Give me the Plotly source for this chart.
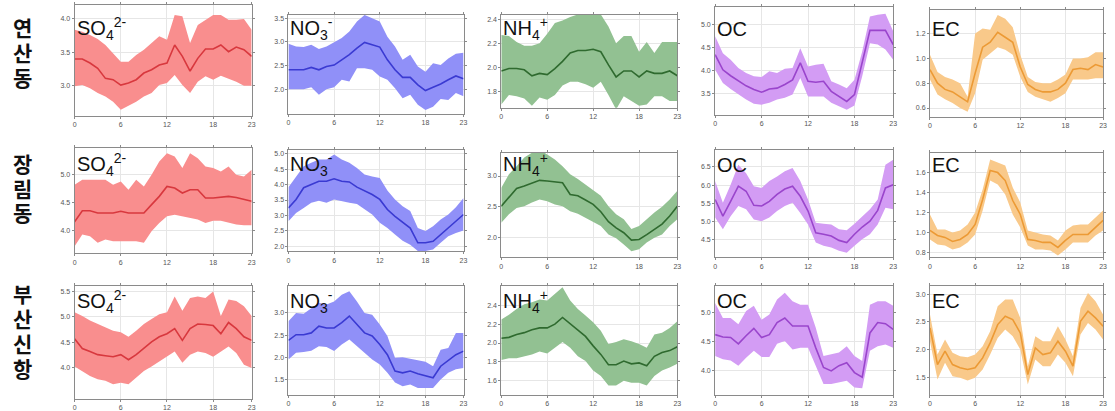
import plotly.graph_objects as go

hours = list(range(24))
x_ticks = [0, 6, 12, 18, 23]
sites = ["연산동", "장림동", "부산신항"]
species_labels = ["SO<sub>4</sub><sup>2-</sup>", "NO<sub>3</sub><sup>-</sup>",
                  "NH<sub>4</sub><sup>+</sup>", "OC", "EC"]

# ---------------- 연산동 ----------------
ys_so4_mean = [3.40, 3.40, 3.34, 3.26, 3.11, 3.09, 3.01, 3.04, 3.09, 3.19, 3.24, 3.31, 3.34, 3.61, 3.44, 3.22, 3.41, 3.55, 3.55, 3.61, 3.51, 3.58, 3.54, 3.44]
ys_so4_high = [3.84, 3.81, 3.76, 3.70, 3.61, 3.49, 3.36, 3.36, 3.46, 3.54, 3.64, 3.74, 3.69, 4.06, 4.04, 3.64, 3.91, 3.99, 4.06, 4.06, 3.99, 3.99, 4.00, 3.84]
ys_so4_low = [2.99, 3.01, 2.96, 2.89, 2.84, 2.76, 2.64, 2.70, 2.76, 2.84, 2.89, 3.01, 3.04, 3.16, 3.01, 2.89, 3.06, 3.14, 3.09, 3.15, 3.11, 3.06, 3.00, 3.00]

ys_no3_mean = [2.41, 2.41, 2.41, 2.46, 2.41, 2.48, 2.51, 2.62, 2.73, 2.87, 2.99, 2.94, 2.89, 2.62, 2.41, 2.25, 2.25, 2.09, 1.97, 2.04, 2.11, 2.20, 2.28, 2.22]
ys_no3_high = [2.96, 2.90, 2.89, 2.94, 2.85, 2.90, 2.99, 3.08, 3.22, 3.43, 3.57, 3.50, 3.43, 3.11, 2.90, 2.62, 2.73, 2.48, 2.37, 2.55, 2.51, 2.65, 2.75, 2.77]
ys_no3_low = [2.00, 2.00, 2.00, 2.04, 1.88, 2.00, 2.04, 2.20, 2.16, 2.44, 2.44, 2.41, 2.27, 2.20, 2.02, 1.81, 1.88, 1.67, 1.56, 1.63, 1.79, 1.77, 1.92, 1.85]

ys_nh4_mean = [1.97, 1.99, 1.99, 1.98, 1.93, 1.95, 1.94, 1.99, 2.05, 2.12, 2.14, 2.14, 2.15, 2.13, 2.02, 1.92, 1.97, 1.97, 1.92, 1.97, 1.95, 1.95, 1.97, 1.93]
ys_nh4_high = [2.27, 2.26, 2.21, 2.18, 2.18, 2.20, 2.28, 2.37, 2.39, 2.42, 2.44, 2.44, 2.44, 2.44, 2.34, 2.20, 2.26, 2.26, 2.13, 2.21, 2.12, 2.21, 2.21, 2.21]
ys_nh4_low = [1.69, 1.77, 1.76, 1.74, 1.68, 1.75, 1.73, 1.77, 1.85, 1.88, 1.88, 1.86, 1.83, 1.88, 1.77, 1.65, 1.76, 1.72, 1.68, 1.69, 1.76, 1.76, 1.72, 1.72]

ys_oc_mean = [4.35, 4.02, 3.89, 3.77, 3.67, 3.59, 3.53, 3.60, 3.62, 3.70, 3.80, 4.17, 3.77, 3.75, 3.77, 3.55, 3.44, 3.33, 3.48, 4.20, 4.88, 4.88, 4.88, 4.57]
ys_oc_high = [4.75, 4.38, 4.24, 4.06, 3.95, 3.88, 3.86, 3.99, 3.95, 4.04, 4.06, 4.49, 4.09, 4.13, 4.15, 3.77, 3.70, 3.62, 3.80, 4.42, 5.18, 5.22, 5.24, 4.86]
ys_oc_low = [4.02, 3.73, 3.60, 3.48, 3.37, 3.28, 3.26, 3.30, 3.37, 3.41, 3.48, 3.84, 3.44, 3.44, 3.44, 3.30, 3.23, 3.15, 3.24, 3.88, 4.60, 4.57, 4.46, 4.24]

ys_ec_mean = [0.91, 0.80, 0.75, 0.73, 0.69, 0.65, 0.88, 1.09, 1.13, 1.21, 1.17, 1.13, 0.93, 0.79, 0.75, 0.73, 0.73, 0.75, 0.80, 0.91, 0.92, 0.91, 0.95, 0.93]
ys_ec_high = [1.03, 0.89, 0.85, 0.83, 0.80, 0.69, 1.20, 1.24, 1.23, 1.35, 1.32, 1.25, 1.03, 0.85, 0.81, 0.80, 0.80, 0.83, 0.87, 1.00, 1.00, 1.01, 1.05, 1.05]
ys_ec_low = [0.83, 0.71, 0.67, 0.64, 0.60, 0.57, 0.72, 0.99, 1.04, 1.09, 1.07, 1.03, 0.85, 0.73, 0.69, 0.67, 0.65, 0.68, 0.72, 0.83, 0.83, 0.83, 0.84, 0.84]

# ---------------- 장림동 ----------------
jr_so4_mean = [4.15, 4.35, 4.35, 4.31, 4.31, 4.31, 4.34, 4.31, 4.31, 4.31, 4.46, 4.61, 4.79, 4.76, 4.67, 4.73, 4.73, 4.58, 4.58, 4.59, 4.61, 4.59, 4.55, 4.52]
jr_so4_high = [4.82, 4.91, 4.91, 4.91, 4.91, 4.82, 4.88, 4.73, 4.91, 4.79, 5.00, 5.24, 5.39, 5.33, 5.12, 5.39, 5.30, 5.15, 5.12, 5.06, 5.15, 5.00, 4.97, 5.09]
jr_so4_low = [3.71, 3.92, 3.89, 3.77, 3.83, 3.80, 3.80, 3.80, 3.80, 3.77, 3.98, 4.13, 4.25, 4.28, 4.25, 4.22, 4.19, 4.13, 4.17, 4.17, 4.13, 4.10, 4.09, 4.09]

jr_no3_mean = [3.24, 3.52, 3.90, 4.00, 4.11, 4.11, 4.19, 4.11, 4.09, 3.92, 3.81, 3.68, 3.52, 3.19, 2.97, 2.79, 2.59, 2.11, 2.11, 2.16, 2.38, 2.59, 2.83, 3.03]
jr_no3_high = [3.92, 4.27, 4.60, 4.71, 4.82, 4.82, 4.98, 4.82, 4.71, 4.54, 4.33, 4.27, 4.22, 3.81, 3.52, 3.30, 3.14, 2.59, 2.49, 2.65, 2.87, 3.03, 3.27, 3.57]
jr_no3_low = [2.81, 3.08, 3.24, 3.41, 3.48, 3.41, 3.52, 3.46, 3.41, 3.37, 3.19, 3.03, 2.76, 2.59, 2.38, 2.18, 2.05, 1.84, 1.84, 1.89, 2.11, 2.32, 2.43, 2.51]

jr_nh4_mean = [2.51, 2.65, 2.80, 2.84, 2.89, 2.93, 2.92, 2.90, 2.89, 2.70, 2.68, 2.61, 2.54, 2.42, 2.26, 2.16, 2.08, 1.96, 1.97, 2.05, 2.14, 2.22, 2.35, 2.51]
jr_nh4_high = [2.81, 3.03, 3.16, 3.30, 3.38, 3.43, 3.35, 3.27, 3.16, 3.03, 2.95, 2.86, 2.78, 2.68, 2.51, 2.38, 2.30, 2.14, 2.19, 2.30, 2.41, 2.50, 2.62, 2.76]
jr_nh4_low = [2.24, 2.38, 2.48, 2.51, 2.57, 2.62, 2.59, 2.54, 2.51, 2.43, 2.39, 2.32, 2.26, 2.19, 2.05, 1.99, 1.89, 1.78, 1.81, 1.92, 2.00, 2.05, 2.19, 2.30]

jr_oc_mean = [5.60, 5.14, 5.55, 5.97, 5.83, 5.44, 5.42, 5.55, 5.74, 5.89, 5.97, 5.69, 5.28, 4.68, 4.64, 4.59, 4.47, 4.41, 4.64, 4.84, 5.00, 5.30, 5.92, 6.01]
jr_oc_high = [6.11, 5.51, 6.01, 6.56, 6.33, 5.97, 5.92, 6.11, 6.24, 6.38, 6.47, 6.11, 5.60, 4.96, 4.93, 4.91, 4.78, 4.75, 4.93, 5.14, 5.33, 5.60, 6.56, 6.70]
jr_oc_low = [5.10, 4.78, 5.14, 5.42, 5.33, 5.05, 5.00, 5.10, 5.28, 5.42, 5.51, 5.23, 4.91, 4.41, 4.32, 4.27, 4.18, 4.13, 4.32, 4.50, 4.64, 4.91, 5.37, 5.33]

jr_ec_mean = [1.02, 0.97, 0.95, 0.91, 0.93, 0.98, 1.08, 1.33, 1.62, 1.60, 1.52, 1.32, 1.18, 0.93, 0.92, 0.90, 0.90, 0.85, 0.92, 0.98, 0.98, 0.98, 1.05, 1.12]
jr_ec_high = [1.18, 1.03, 1.03, 1.00, 1.02, 1.08, 1.20, 1.43, 1.73, 1.70, 1.67, 1.45, 1.30, 1.02, 1.00, 0.98, 0.97, 0.92, 1.02, 1.07, 1.08, 1.08, 1.15, 1.22]
jr_ec_low = [0.93, 0.88, 0.87, 0.83, 0.85, 0.90, 0.98, 1.22, 1.52, 1.48, 1.38, 1.18, 1.05, 0.87, 0.83, 0.83, 0.82, 0.77, 0.83, 0.90, 0.90, 0.90, 0.97, 1.02]

# ---------------- 부산신항 ----------------
bs_so4_mean = [4.57, 4.38, 4.32, 4.26, 4.24, 4.22, 4.26, 4.16, 4.26, 4.38, 4.51, 4.61, 4.67, 4.77, 4.54, 4.77, 4.86, 4.85, 4.83, 4.67, 4.89, 4.77, 4.61, 4.54]
bs_so4_high = [5.09, 5.02, 4.93, 4.86, 4.80, 4.73, 4.70, 4.61, 4.73, 4.86, 4.96, 5.05, 5.09, 5.40, 5.12, 5.37, 5.40, 5.37, 5.50, 5.02, 5.34, 5.31, 5.21, 5.02]
bs_so4_low = [4.03, 3.94, 3.84, 3.78, 3.75, 3.68, 3.71, 3.68, 3.81, 3.94, 4.03, 4.13, 4.22, 4.32, 4.10, 4.26, 4.32, 4.29, 4.22, 4.32, 4.42, 4.29, 4.06, 4.00]

bs_no3_mean = [2.38, 2.51, 2.51, 2.55, 2.70, 2.66, 2.66, 2.78, 2.93, 2.74, 2.55, 2.48, 2.29, 2.06, 1.69, 1.65, 1.69, 1.63, 1.58, 1.54, 1.80, 1.93, 2.06, 2.14]
bs_no3_high = [2.81, 3.00, 2.98, 3.11, 3.23, 3.19, 3.26, 3.41, 3.49, 3.26, 3.00, 2.96, 2.74, 2.48, 1.99, 2.00, 1.97, 1.93, 1.90, 1.80, 2.17, 2.21, 2.55, 2.55]
bs_no3_low = [1.95, 2.10, 2.12, 2.15, 2.25, 2.23, 2.14, 2.29, 2.40, 2.25, 2.10, 1.95, 1.84, 1.65, 1.43, 1.35, 1.39, 1.31, 1.31, 1.31, 1.50, 1.65, 1.73, 1.76]

bs_nh4_mean = [2.05, 2.06, 2.09, 2.11, 2.14, 2.16, 2.16, 2.20, 2.27, 2.20, 2.13, 2.07, 1.97, 1.88, 1.77, 1.77, 1.81, 1.78, 1.79, 1.76, 1.86, 1.90, 1.92, 1.96]
bs_nh4_high = [2.25, 2.30, 2.36, 2.41, 2.43, 2.46, 2.45, 2.52, 2.59, 2.45, 2.36, 2.29, 2.22, 2.13, 1.99, 2.01, 2.04, 2.02, 1.99, 1.95, 2.09, 2.11, 2.16, 2.23]
bs_nh4_low = [1.82, 1.84, 1.84, 1.86, 1.88, 1.91, 1.89, 1.95, 2.01, 1.95, 1.86, 1.81, 1.71, 1.65, 1.55, 1.55, 1.60, 1.58, 1.58, 1.55, 1.65, 1.71, 1.74, 1.78]

bs_oc_mean = [4.62, 4.58, 4.57, 4.46, 4.60, 4.73, 4.57, 4.62, 4.83, 4.91, 4.77, 4.77, 4.77, 4.39, 4.05, 3.99, 4.08, 4.13, 3.96, 3.88, 4.65, 4.83, 4.81, 4.71]
bs_oc_high = [5.17, 4.91, 4.91, 4.80, 5.03, 5.12, 4.88, 4.97, 5.23, 5.35, 5.20, 5.14, 5.14, 4.74, 4.25, 4.28, 4.31, 4.42, 4.25, 4.16, 5.14, 5.20, 5.20, 5.12]
bs_oc_low = [4.25, 4.19, 4.17, 4.08, 4.22, 4.34, 4.23, 4.23, 4.46, 4.51, 4.36, 4.39, 4.39, 4.08, 3.76, 3.76, 3.79, 3.82, 3.70, 3.69, 4.34, 4.42, 4.45, 4.39]

bs_ec_mean = [2.39, 1.73, 1.97, 1.73, 1.67, 1.64, 1.67, 1.85, 2.12, 2.45, 2.60, 2.54, 2.30, 1.55, 2.03, 1.91, 1.94, 2.15, 1.97, 1.70, 2.51, 2.69, 2.57, 2.42]
bs_ec_high = [2.63, 1.91, 2.18, 1.94, 1.88, 1.86, 1.91, 2.06, 2.33, 2.78, 2.90, 2.90, 2.57, 1.70, 2.24, 2.15, 2.15, 2.42, 2.18, 1.88, 2.75, 3.02, 2.87, 2.63]
bs_ec_low = [2.15, 1.46, 1.76, 1.52, 1.49, 1.44, 1.49, 1.64, 1.91, 2.21, 2.36, 2.24, 2.00, 1.37, 1.82, 1.70, 1.70, 1.91, 1.76, 1.52, 2.27, 2.48, 2.36, 2.18]

panels = [
    [(ys_so4_mean, ys_so4_low, ys_so4_high), (ys_no3_mean, ys_no3_low, ys_no3_high),
     (ys_nh4_mean, ys_nh4_low, ys_nh4_high), (ys_oc_mean, ys_oc_low, ys_oc_high),
     (ys_ec_mean, ys_ec_low, ys_ec_high)],
    [(jr_so4_mean, jr_so4_low, jr_so4_high), (jr_no3_mean, jr_no3_low, jr_no3_high),
     (jr_nh4_mean, jr_nh4_low, jr_nh4_high), (jr_oc_mean, jr_oc_low, jr_oc_high),
     (jr_ec_mean, jr_ec_low, jr_ec_high)],
    [(bs_so4_mean, bs_so4_low, bs_so4_high), (bs_no3_mean, bs_no3_low, bs_no3_high),
     (bs_nh4_mean, bs_nh4_low, bs_nh4_high), (bs_oc_mean, bs_oc_low, bs_oc_high),
     (bs_ec_mean, bs_ec_low, bs_ec_high)],
]

# y-axis tick values and ranges per panel
y_tickvals = [
    [[3.0, 3.5, 4.0], [2.0, 2.5, 3.0, 3.5], [1.8, 2.0, 2.2, 2.4], [3.5, 4.0, 4.5, 5.0], [0.6, 0.8, 1.0, 1.2]],
    [[4.0, 4.5, 5.0], [2.0, 2.5, 3.0, 3.5, 4.0, 4.5, 5.0], [2.0, 2.5, 3.0], [4.5, 5.0, 5.5, 6.0, 6.5], [0.8, 1.0, 1.2, 1.4, 1.6]],
    [[4.0, 4.5, 5.0, 5.5], [1.5, 2.0, 2.5, 3.0], [1.6, 1.8, 2.0, 2.2, 2.4], [4.0, 4.5, 5.0], [1.5, 2.0, 2.5, 3.0]],
]
y_ranges = [
    [[2.55, 4.21], [1.48, 3.57], [1.664, 2.436], [3.04, 5.39], [0.53, 1.39]],
    [[3.58, 5.49], [1.83, 5.14], [1.68, 3.38], [4.0, 6.98], [0.75, 1.80]],
    [[3.39, 5.60], [1.15, 3.60], [1.45, 2.60], [3.57, 5.46], [1.18, 3.14]],
]

# layout in pixels
W, H = 1115, 411
col_px = [(73, 251), (288, 464), (502, 679), (717, 896), (933, 1107)]
row_px = [
    [(5, 116), (15, 114), (15, 108), (7, 115), (10, 117)],
    [(148, 254), (150, 252), (153, 258), (150, 258), (153, 258)],
    [(287, 400), (287, 396), (287, 396), (287, 396), (287, 396)],
]
label_cy = [29, 165, 302]      # vertical centre of the species labels (px)
site_char_y = [[27, 52, 77], [163, 188, 213], [294, 319, 344, 369]]

fill_colors = ["#F98E8E", "#9090F8", "#92C192", "#D39CF4", "#F9C98A"]
line_colors = ["#D8383E", "#3A3AD2", "#2F6A2F", "#9A45CC", "#EC9A35"]

fig = go.Figure()
layout = dict(
    width=W, height=H, margin=dict(l=0, r=0, t=0, b=0),
    paper_bgcolor="white", plot_bgcolor="white", showlegend=False,
    font=dict(family="Liberation Sans, Arial, sans-serif"),
)
annotations = []

k = 0
for r in range(3):
    for c in range(5):
        k += 1
        xa = "x" if k == 1 else f"x{k}"
        ya = "y" if k == 1 else f"y{k}"
        mean, low, high = panels[r][c]
        fig.add_trace(go.Scatter(x=hours, y=low, mode="lines", line=dict(width=0, color=fill_colors[c]),
                                 xaxis=xa, yaxis=ya, hoverinfo="skip"))
        fig.add_trace(go.Scatter(x=hours, y=high, mode="lines", line=dict(width=0, color=fill_colors[c]),
                                 fill="tonexty", fillcolor=fill_colors[c], xaxis=xa, yaxis=ya))
        fig.add_trace(go.Scatter(x=hours, y=mean, mode="lines", line=dict(width=1.6, color=line_colors[c]),
                                 xaxis=xa, yaxis=ya))
        x0, x1 = col_px[c]
        t, b = row_px[r][c]
        axis_common = dict(showline=True, linecolor="#8a8a8a", linewidth=1, mirror="ticks",
                           ticks="outside", ticklen=2, tickcolor="#8a8a8a",
                           showgrid=True, gridcolor="#e6e6e6", gridwidth=1, zeroline=False,
                           tickfont=dict(size=7, color="#555555"))
        layout["xaxis" if k == 1 else f"xaxis{k}"] = dict(
            domain=[x0 / W, x1 / W], anchor=ya, range=[0, 23], tickvals=x_ticks, **axis_common)
        layout["yaxis" if k == 1 else f"yaxis{k}"] = dict(
            domain=[1 - b / H, 1 - t / H], anchor=xa, range=y_ranges[r][c],
            tickvals=y_tickvals[r][c], tickformat=".1f", **axis_common)
        annotations.append(dict(
            text=species_labels[c], xref=f"{xa} domain", yref="paper",
            x=0, y=1 - label_cy[r] / H, xanchor="left", yanchor="middle", showarrow=False,
            font=dict(size=20, color="#111111", family="Liberation Sans, Arial, sans-serif")))

for r in range(3):
    for ch, cy in zip(sites[r], site_char_y[r]):
        annotations.append(dict(
            text=ch, xref="paper", yref="paper",
            x=21 / W, y=1 - cy / H, xanchor="center", yanchor="middle",
            showarrow=False,
            font=dict(size=21, color="#111111", family="Noto Sans CJK KR", weight="bold")))

layout["annotations"] = annotations
fig.update_layout(**layout)
fig.write_html("out.html", config={"displayModeBar": False},
               post_script="document.body.style.margin='0';")
